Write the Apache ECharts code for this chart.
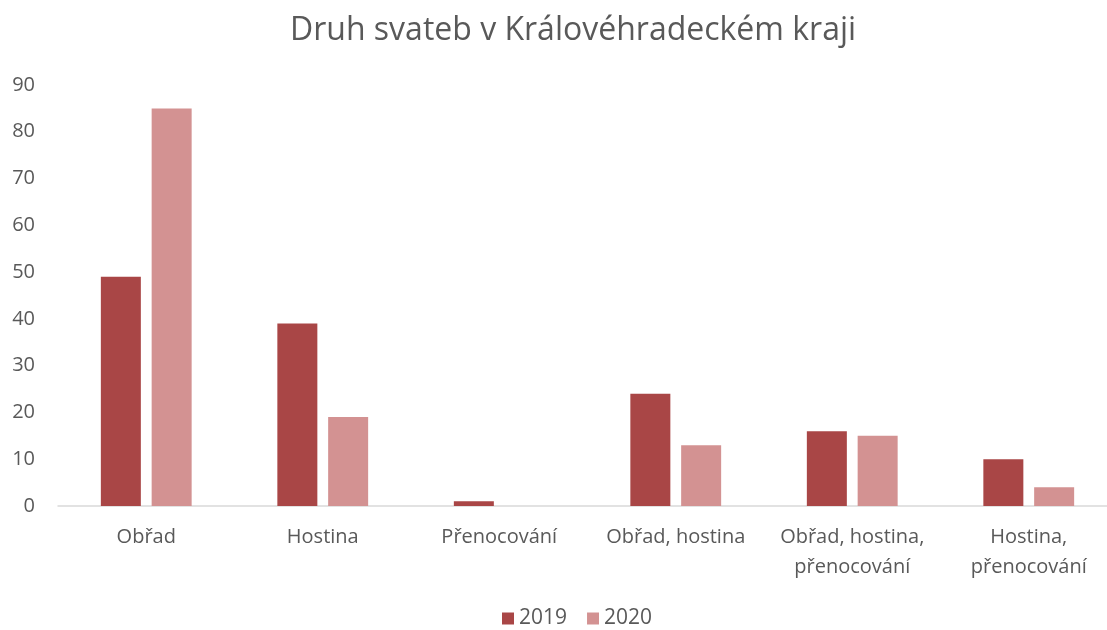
<!DOCTYPE html>
<html><head><meta charset="utf-8">
<script src="https://cdn.jsdelivr.net/npm/echarts@6/dist/echarts.min.js"></script>
<style>html,body{margin:0;padding:0;background:#fff}#c{width:1107px;height:630px}</style>
</head><body><div id="c"></div>
<script>
const categories = ['Obřad', 'Hostina', 'Přenocování', 'Obřad, hostina', 'Obřad, hostina,\npřenocování', 'Hostina,\npřenocování'];
const values2019 = [49, 39, 1, 24, 16, 10];
const values2020 = [85, 19, 0, 13, 15, 4];
const yTicks = [0, 10, 20, 30, 40, 50, 60, 70, 80, 90];

const chart = echarts.init(document.getElementById('c'));
const font = '"Open Sans", "Noto Sans", sans-serif';
chart.setOption({
  animation: false,
  title: { text: 'Druh svateb v Královéhradeckém kraji', left: 285, top: 10,
    textStyle: { fontFamily: font, fontSize: 32, fontWeight: 'normal', color: '#595959' } },
  legend: { bottom: -4, left: 497, itemWidth: 12, itemHeight: 12, itemGap: 20,
    icon: 'rect', textStyle: { fontFamily: font, fontSize: 21, color: '#595959' },
    data: ['2019', '2020'] },
  grid: { left: 58, top: 85, width: 1059, height: 421, outerBoundsMode: 'none', containLabel: false },
  xAxis: { type: 'category', data: categories,
    axisLine: { lineStyle: { color: '#d9d9d9', width: 1.5 } }, axisTick: { show: false },
    axisLabel: { fontFamily: font, fontSize: 20, color: '#595959', margin: 16, lineHeight: 30, interval: 0 } },
  yAxis: { type: 'value', min: yTicks[0], max: yTicks[yTicks.length - 1], interval: 10,
    splitLine: { show: false }, axisLine: { show: false }, axisTick: { show: false },
    axisLabel: { fontFamily: font, fontSize: 20, color: '#595959', align: 'right', margin: 23 } },
  series: [
    { name: '2019', type: 'bar', data: values2019, barWidth: 40, barGap: '27%',
      itemStyle: { color: '#A94646' } },
    { name: '2020', type: 'bar', data: values2020, barWidth: 40,
      itemStyle: { color: '#D39292' } }
  ]
});
</script></body></html>
